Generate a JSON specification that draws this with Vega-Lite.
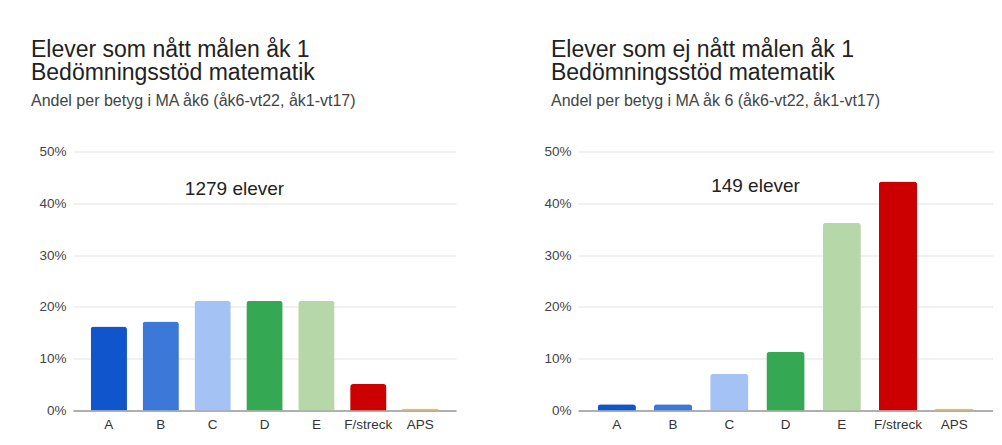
{
  "$schema": "https://vega.github.io/schema/vega-lite/v6.json",
  "background": "white",
  "padding": {"left": 30, "top": 38.5, "right": 0, "bottom": 0},
  "autosize": {"type": "pad"},
  "datasets": {
    "natt": [
      {"betyg": "A", "andel": 0.162},
      {"betyg": "B", "andel": 0.172},
      {"betyg": "C", "andel": 0.212},
      {"betyg": "D", "andel": 0.212},
      {"betyg": "E", "andel": 0.212},
      {"betyg": "F/streck", "andel": 0.051},
      {"betyg": "APS", "andel": 0.004}
    ],
    "ejnatt": [
      {"betyg": "A", "andel": 0.012},
      {"betyg": "B", "andel": 0.012},
      {"betyg": "C", "andel": 0.071},
      {"betyg": "D", "andel": 0.113},
      {"betyg": "E", "andel": 0.362},
      {"betyg": "F/streck", "andel": 0.442},
      {"betyg": "APS", "andel": 0.004}
    ],
    "noteL": [{"label": "1279 elever"}],
    "noteR": [{"label": "149 elever"}]
  },
  "spacing": 87,
  "hconcat": [
    {
      "width": 383,
      "height": 259,
      "title": {
        "text": ["Elever som nått målen åk 1", "Bedömningsstöd matematik"],
        "subtitle": "Andel per betyg i MA åk6 (åk6-vt22, åk1-vt17)",
        "dx": -8
      },
      "layer": [
        {
          "data": {"name": "natt"},
          "mark": {"type": "bar", "cornerRadiusTopLeft": 3, "cornerRadiusTopRight": 3},
          "encoding": {
            "x": {"field": "betyg", "type": "nominal", "sort": null, "title": null,
                  "scale": {"paddingInner": 0.3, "paddingOuter": 0.34}},
            "y": {"field": "andel", "type": "quantitative", "title": null,
                  "scale": {"domain": [0, 0.5], "nice": false}},
            "color": {"field": "betyg", "type": "nominal", "legend": null,
                      "scale": {"domain": ["A", "B", "C", "D", "E", "F/streck", "APS"],
                                "range": ["#1155cc", "#3c78d8", "#a4c2f4", "#34a853", "#b6d7a8", "#cc0000", "#f1c232"]}}
          }
        },
        {
          "data": {"name": "noteL"},
          "mark": {"type": "text", "dx": -30, "fontSize": 19, "color": "#222", "font": "Liberation Sans"},
          "encoding": {
            "x": {"datum": "D", "type": "nominal"},
            "y": {"datum": 0.428, "type": "quantitative"},
            "text": {"field": "label"}
          }
        }
      ]
    },
    {
      "width": 415,
      "height": 259,
      "title": {
        "text": ["Elever som ej nått målen åk 1", "Bedömningsstöd matematik"],
        "subtitle": "Andel per betyg i MA åk 6 (åk6-vt22, åk1-vt17)",
        "dx": 7
      },
      "layer": [
        {
          "data": {"name": "ejnatt"},
          "mark": {"type": "bar", "cornerRadiusTopLeft": 3, "cornerRadiusTopRight": 3},
          "encoding": {
            "x": {"field": "betyg", "type": "nominal", "sort": null, "title": null,
                  "scale": {"paddingInner": 0.32, "paddingOuter": 0.35}},
            "y": {"field": "andel", "type": "quantitative", "title": null,
                  "scale": {"domain": [0, 0.5], "nice": false}},
            "color": {"field": "betyg", "type": "nominal", "legend": null,
                      "scale": {"domain": ["A", "B", "C", "D", "E", "F/streck", "APS"],
                                "range": ["#1155cc", "#3c78d8", "#a4c2f4", "#34a853", "#b6d7a8", "#cc0000", "#f1c232"]}}
          }
        },
        {
          "data": {"name": "noteR"},
          "mark": {"type": "text", "dx": -30, "fontSize": 19, "color": "#222", "font": "Liberation Sans"},
          "encoding": {
            "x": {"datum": "D", "type": "nominal"},
            "y": {"datum": 0.434, "type": "quantitative"},
            "text": {"field": "label"}
          }
        }
      ]
    }
  ],
  "resolve": {"scale": {"color": "independent"}},
  "config": {
    "font": "Liberation Sans",
    "view": {"stroke": null},
    "title": {
      "anchor": "start",
      "frame": "bounds",
      "fontSize": 23,
      "fontWeight": "normal",
      "lineHeight": 23,
      "color": "#222",
      "subtitleFontSize": 16,
      "subtitleColor": "#444",
      "subtitlePadding": 8,
      "offset": 36
    },
    "axisY": {
      "values": [0, 0.1, 0.2, 0.3, 0.4, 0.5],
      "format": ".0%",
      "grid": true,
      "gridColor": "#e3e3e3",
      "gridWidth": 1.2,
      "domain": false,
      "ticks": false,
      "tickSize": 0,
      "labelPadding": 7,
      "labelFontSize": 13.5,
      "labelColor": "#444"
    },
    "axisX": {
      "labelAngle": 0,
      "ticks": false,
      "tickSize": 0,
      "domain": true,
      "domainColor": "#999",
      "domainWidth": 1.5,
      "labelPadding": 7,
      "labelFontSize": 13.5,
      "labelColor": "#333",
      "grid": false
    }
  }
}
